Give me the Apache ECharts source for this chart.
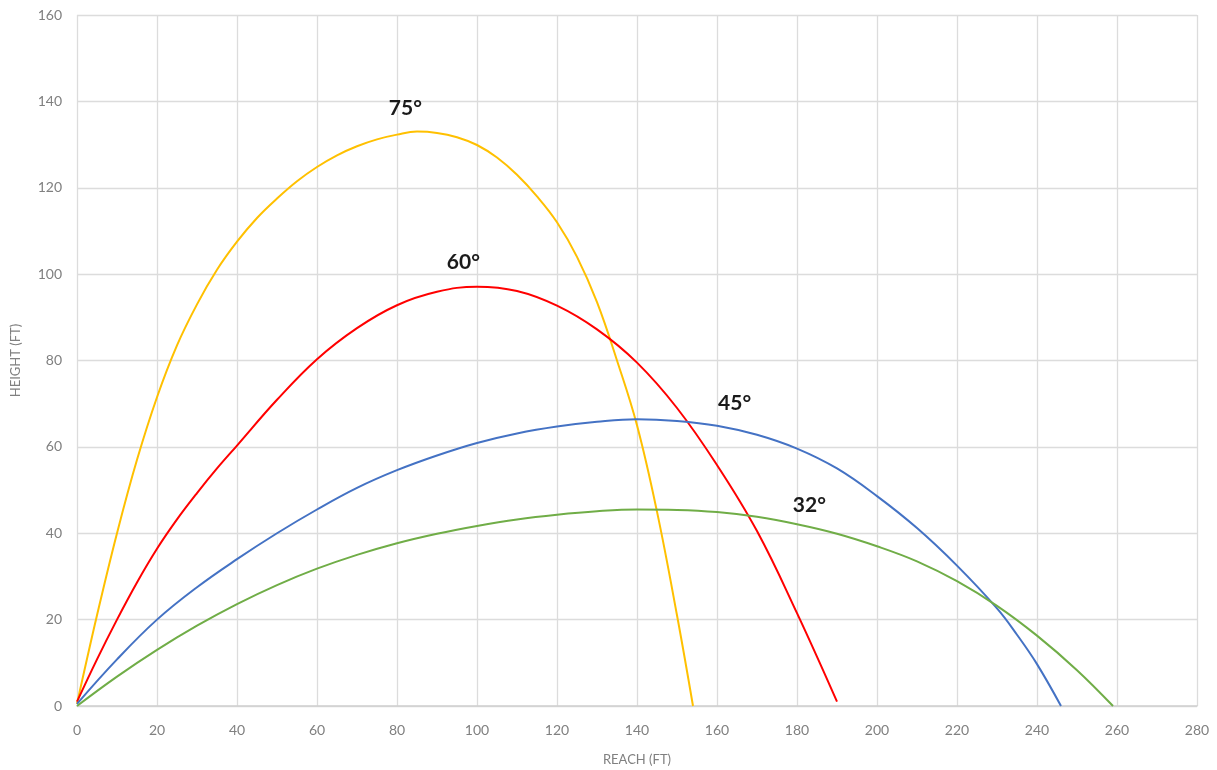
<!DOCTYPE html>
<html>
<head>
<meta charset="utf-8">
<script src="https://cdn.jsdelivr.net/npm/echarts@6/dist/echarts.min.js"></script>
<style>html,body{margin:0;padding:0;background:#fff}#c{width:1217px;height:770px}</style>
</head>
<body>
<div id="c"></div>
<script>
// 75° trajectory
const x75 = [0, 5, 10, 15, 20, 25, 30, 35, 40, 45, 50, 55, 60, 65, 70, 75, 80, 85, 90, 95, 100, 105, 110, 115, 120, 125, 130, 135, 140, 145, 150, 154];
const y75 = [0.5, 21, 40, 57, 71.5, 83.5, 93, 101, 107.5, 113, 117.5, 121.5, 124.8, 127.5, 129.6, 131.2, 132.3, 133, 132.7, 131.7, 129.9, 127, 123, 118, 112, 104, 93.5, 80, 65, 45, 21, 0];
// 60° trajectory
const x60 = [0, 5, 10, 15, 20, 25, 30, 35, 40, 50, 60, 70, 80, 90, 100, 110, 120, 130, 140, 150, 160, 170, 180, 190];
const y60 = [1, 10.8, 20, 28.6, 36.4, 43.2, 49.3, 55, 60.3, 70.9, 80.3, 87.5, 92.8, 95.9, 97.1, 96.1, 92.7, 87.2, 79.5, 69, 55.8, 40.5, 21.5, 1];
// 45° trajectory
const x45 = [0, 10, 20, 30, 40, 50, 60, 70, 80, 90, 100, 110, 120, 130, 140, 150, 160, 170, 180, 190, 200, 210, 220, 230, 235, 240, 246];
const y45 = [0.5, 10.8, 20, 27.5, 34, 40, 45.5, 50.5, 54.6, 58, 60.9, 63.1, 64.7, 65.8, 66.4, 66, 64.9, 62.8, 59.6, 55, 48.6, 41.2, 32.5, 22.6, 16.5, 9.7, 0];
// 32° trajectory
const x32 = [0, 10, 20, 30, 40, 50, 60, 70, 80, 90, 100, 110, 120, 130, 140, 150, 160, 170, 180, 190, 200, 210, 220, 230, 240, 250, 259];
const y32 = [0, 6.8, 13, 18.6, 23.6, 28, 31.8, 35, 37.7, 39.9, 41.7, 43.2, 44.3, 45.1, 45.5, 45.4, 44.9, 43.8, 42.1, 39.9, 37, 33.5, 28.9, 23.2, 16.3, 8.3, 0];

// angle annotations (text and anchor in data units)
const angleNames = ['75°', '60°', '45°', '32°'];
const angleLabelX = [82.1, 96.6, 164.4, 183.1];
const angleLabelY = [138.4, 102.8, 70.1, 46.5];

const xTicks = [0, 20, 40, 60, 80, 100, 120, 140, 160, 180, 200, 220, 240, 260, 280];
const yTicks = [0, 20, 40, 60, 80, 100, 120, 140, 160];

const colors = ['#FFC000', '#FF0000', '#4472C4', '#70AD47'];
const xs = [x75, x60, x45, x32];
const ys = [y75, y60, y45, y32];

const font = 'Lato, "Open Sans", sans-serif';

const series = xs.map((xa, i) => ({
  type: 'line',
  name: angleNames[i],
  data: xa.map((v, j) => [v, ys[i][j]]),
  smooth: 0.4,
  showSymbol: false,
  symbol: 'none',
  lineStyle: { color: colors[i], width: 2 },
  itemStyle: { color: colors[i] },
  z: 3 + i,
  markPoint: {
    symbol: 'circle',
    symbolSize: 1,
    itemStyle: { color: 'rgba(0,0,0,0)' },
    data: [{ coord: [angleLabelX[i], angleLabelY[i]], value: angleNames[i] }],
    label: {
      show: true,
      formatter: angleNames[i],
      color: '#1a1a1a',
      fontSize: 21,
      fontWeight: 'bold',
      fontFamily: font,
      position: 'inside'
    }
  }
}));

const chart = echarts.init(document.getElementById('c'), null, { renderer: 'canvas' });
chart.setOption({
  animation: false,
  backgroundColor: '#ffffff',
  grid: { left: 77, right: 20, top: 15, bottom: 64, containLabel: false, outerBoundsMode: 'none' },
  xAxis: {
    type: 'value',
    min: xTicks[0],
    max: xTicks[xTicks.length - 1],
    interval: 20,
    name: 'REACH (FT)',
    nameLocation: 'middle',
    nameGap: 47,
    nameTextStyle: { color: '#808080', fontSize: 13, fontFamily: font },
    axisLine: { show: true, lineStyle: { color: '#d0d0d0', width: 1.5 } },
    axisTick: { show: false },
    axisLabel: { color: '#808080', fontSize: 14, fontFamily: font, margin: 17 },
    splitLine: { show: true, lineStyle: { color: '#dcdcdc', width: 1.3 } }
  },
  yAxis: {
    type: 'value',
    min: yTicks[0],
    max: yTicks[yTicks.length - 1],
    interval: 20,
    name: 'HEIGHT (FT)',
    nameLocation: 'middle',
    nameGap: 55,
    nameRotate: 90,
    nameTextStyle: { color: '#808080', fontSize: 13, fontFamily: font },
    axisLine: { show: false },
    axisTick: { show: false },
    axisLabel: { color: '#808080', fontSize: 14, fontFamily: font, margin: 15 },
    splitLine: { show: true, lineStyle: { color: '#dcdcdc', width: 1.3 } }
  },
  series: series
});
</script>
</body>
</html>
